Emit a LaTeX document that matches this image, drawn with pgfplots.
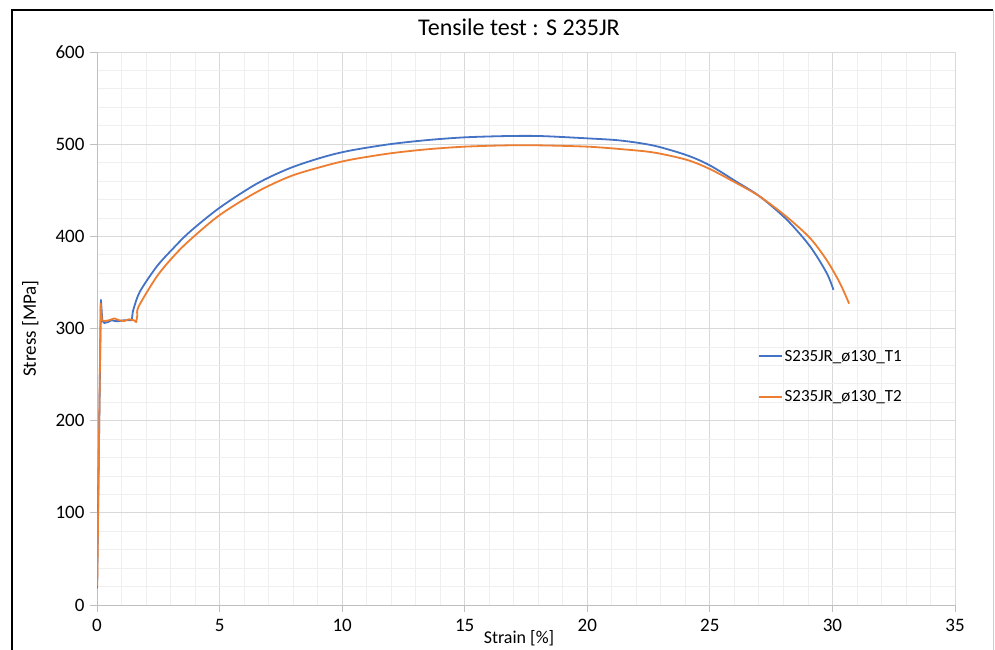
\documentclass[border=0pt]{standalone}
\usepackage{fontspec}
\setmainfont{Carlito}
\usepackage{pgfplots}
\pgfplotsset{compat=1.18}

\definecolor{tblue}{HTML}{4472C4}
\definecolor{torange}{HTML}{ED7D31}
\definecolor{gridmajor}{HTML}{D9D9D9}
\definecolor{gridminor}{HTML}{EFEFEF}
\definecolor{axisgray}{HTML}{BFBFBF}

\begin{document}
\begin{tikzpicture}
\begin{axis}[
  at={(97bp,45bp)}, anchor=south west,
  scale only axis, width=858bp, height=553bp,
  xmin=0, xmax=35, ymin=0, ymax=600,
  xtick={0,5,...,35}, ytick={0,100,...,600},
  minor x tick num=4, minor y tick num=4,
  grid=both,
  major grid style={gridmajor, line width=1bp},
  minor grid style={gridminor, line width=0.8bp},
  axis lines=left,
  axis line style={-, axisgray, line width=1bp},
  tick align=outside, tick pos=left,
  major tick length=7bp, minor tick length=0bp,
  tick style={axisgray, line width=1bp},
  /pgf/number format/assume math mode=true,
  ticklabel style={font=\fontsize{19bp}{22bp}\selectfont, text=black},
  xticklabel style={yshift=-4bp},
  yticklabel style={xshift=-2bp},
  title={Tensile test : S 235JR},
  title style={at={(axis description cs:0.4918,1.0199)}, anchor=base,
    font=\fontsize{24bp}{28bp}\selectfont},
  xlabel={Strain [\%]},
  xlabel style={at={(axis description cs:0.4918,-0.0705)}, anchor=base,
    font=\fontsize{18bp}{21bp}\selectfont},
  ylabel={Stress [MPa]},
  ylabel style={at={(axis description cs:-0.0711,0.5)}, anchor=base,
    font=\fontsize{19bp}{22bp}\selectfont},
  legend style={draw=none, fill=none, at={(0.770,0.413)}, anchor=west,
    font=\fontsize{17bp}{20bp}\selectfont, inner sep=0bp,
    row sep=24bp, legend cell align=left},
  legend image code/.code={\draw[#1] (0bp,0bp) -- (23bp,0bp);},
  every axis plot/.append style={line width=1.8bp, line join=round},
]
% Specimen T1: elastic part and yield plateau
\addplot[tblue] coordinates {
 (0.00,18) (0.16,331) (0.22,308) (0.30,306) (0.45,307) (0.60,309) (0.75,308)
 (0.90,308) (1.10,309) (1.30,309) (1.42,309) (1.45,316)
};
\addlegendentry{S235JR\_ø130\_T1}
% Specimen T1: hardening and necking
\addplot[tblue, smooth, tension=0.5, forget plot] coordinates {
 (1.45,316) (1.50,322) (1.75,340)
 (2.43,367) (3.11,387) (3.79,405) (5.00,431) (6.51,457) (7.87,474) (9.23,486)
 (10.32,493) (11.95,500) (13.5,504.5) (15.00,507.4) (16.70,508.8) (18.10,508.8)
 (20.00,506.3) (21.34,504) (22.70,498.5) (24.06,488) (25.00,477)
 (26.10,459) (27.05,443) (28.14,418) (29.09,389) (29.77,360) (30.04,342)
};
% Specimen T2: elastic part and yield plateau
\addplot[torange] coordinates {
 (0.01,20) (0.15,327) (0.20,309) (0.30,308) (0.50,309) (0.70,311) (0.90,309)
 (1.10,308) (1.30,310) (1.50,309) (1.60,307) (1.65,315)
};
\addlegendentry{S235JR\_ø130\_T2}
% Specimen T2: hardening and necking
\addplot[torange, smooth, tension=0.5, forget plot] coordinates {
 (1.65,315) (1.70,324) (2.43,356)
 (3.11,378) (3.79,396) (5.00,423) (6.51,448) (7.87,465) (9.23,476)
 (10.32,483) (11.95,490) (13.5,494.5) (15.00,497.3) (16.70,498.7) (18.10,498.7)
 (20.00,497.3) (21.34,494.7) (22.70,491) (24.06,483) (25.00,473)
 (26.10,457.5) (27.05,443) (28.14,421) (29.09,398) (29.77,374) (30.31,349)
 (30.68,327)
};
\end{axis}
% chart frame
\draw[line width=2.5bp] (12bp,0bp) -- (12bp,640bp) -- (993bp,640bp);
\draw[gray!40, line width=1bp] (993bp,640bp) -- (993bp,0bp);
\pgfresetboundingbox
\path[use as bounding box] (0bp,0bp) rectangle (995bp,650bp);
\end{tikzpicture}
\end{document}
